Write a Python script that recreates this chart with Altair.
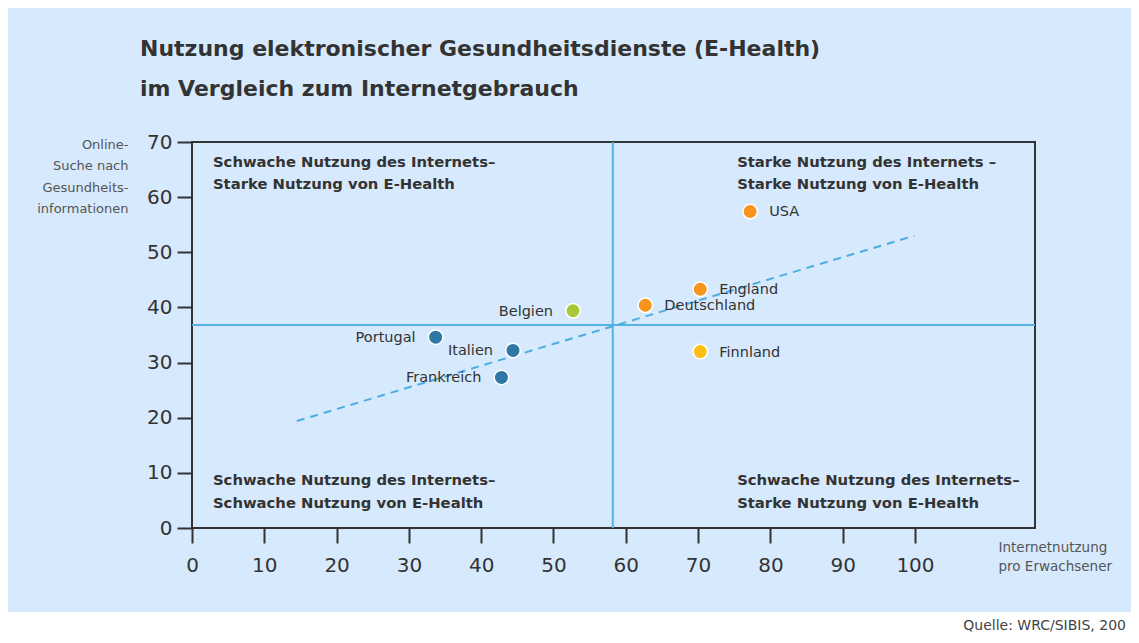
import altair as alt
import pandas as pd

# ---- data ----
countries = ["USA", "England", "Deutschland", "Finnland", "Belgien", "Portugal", "Italien", "Frankreich"]
internet = [77.2, 70.3, 62.7, 70.3, 52.7, 33.7, 44.4, 42.8]
ehealth = [57.4, 43.3, 40.4, 32.0, 39.4, 34.6, 32.2, 27.3]
groups = ["orange", "orange", "orange", "gelb", "gruen", "blau", "blau", "blau"]
label_side = ["rechts", "rechts", "rechts", "rechts", "links", "links", "links", "links"]

trend_x = [14.5, 99.9]
trend_y = [19.4, 53.0]

quad_x_line = 58.2
quad_y_line = 36.8

quad_text = [
    "Schwache Nutzung des Internets–", "Starke Nutzung von E-Health",
    "Starke Nutzung des Internets –", "Starke Nutzung von E-Health",
    "Schwache Nutzung des Internets–", "Schwache Nutzung von E-Health",
    "Schwache Nutzung des Internets–", "Starke Nutzung von E-Health",
]
quad_x = [2.9, 2.9, 75.4, 75.4, 2.9, 2.9, 75.4, 75.4]
quad_y = [66.2, 62.2, 66.2, 62.2, 8.5, 4.4, 8.5, 4.4]

x_ticks = [0, 10, 20, 30, 40, 50, 60, 70, 80, 90, 100]
y_ticks = [0, 10, 20, 30, 40, 50, 60, 70]

title_lines = ["Nutzung elektronischer Gesundheitsdienste (E-Health)",
               "im Vergleich zum Internetgebrauch"]
source_text = "Quelle: WRC/SIBIS, 200"

group_domain = ["orange", "gelb", "gruen", "blau"]
group_colors = ["#f7941d", "#fdbf16", "#a8c83a", "#2f78a6"]

BG = "#d7e9fc"
DARK = "#333333"
LINEBLUE = "#55b3e3"

df = pd.DataFrame({"land": countries, "internet": internet, "ehealth": ehealth,
                   "gruppe": groups, "seite": label_side})
trend_df = pd.DataFrame({"internet": trend_x, "ehealth": trend_y})
quad_df = pd.DataFrame({"text": quad_text, "internet": quad_x, "ehealth": quad_y})

xscale = alt.Scale(domain=[0, 116.6], nice=False, zero=False)
yscale = alt.Scale(domain=[0, 70], nice=False, zero=False)

x_axis = alt.Axis(values=x_ticks, grid=False, domain=False, ticks=True, tickSize=15,
                  tickWidth=2, tickColor=DARK, labelFontSize=20, labelFont="DejaVu Sans",
                  labelColor=DARK, labelPadding=12, labelFlush=False,
                  title=["Internetnutzung", "pro Erwachsener"], titleAngle=0,
                  titleAlign="left", titleBaseline="top", titleX=806, titleY=12,
                  titleFontSize=13.5, titleFontWeight="normal", titleColor="#555555",
                  titleFont="DejaVu Sans", titleLineHeight=19)
y_axis = alt.Axis(values=y_ticks, grid=False, domain=False, ticks=True, tickSize=15,
                  tickWidth=2, tickColor=DARK, labelFontSize=20, labelFont="DejaVu Sans",
                  labelColor=DARK, labelPadding=5, labelFlush=False,
                  title=["Online-", "Suche nach", "Gesundheits-", "informationen"],
                  titleAngle=0, titleAlign="right", titleBaseline="top", titleX=-64,
                  titleY=-4, titleFontSize=13, titleFontWeight="normal",
                  titleColor="#555555", titleFont="DejaVu Sans", titleLineHeight=21.5)


def X(field="internet:Q"):
    return alt.X(field, scale=xscale, axis=x_axis)


def Y(field="ehealth:Q"):
    return alt.Y(field, scale=yscale, axis=y_axis)


# white strip at the bottom of the page (decorative background)
white_strip = alt.Chart(pd.DataFrame({"a": [0]})).mark_rect(color="white").encode(
    x=alt.value(-200), x2=alt.value(960), y=alt.value(470), y2=alt.value(520))

vline = alt.Chart(pd.DataFrame({"internet": [quad_x_line]})).mark_rule(
    color=LINEBLUE, strokeWidth=2).encode(x=X())
hline = alt.Chart(pd.DataFrame({"ehealth": [quad_y_line]})).mark_rule(
    color=LINEBLUE, strokeWidth=2).encode(y=Y())

trend = alt.Chart(trend_df).mark_line(color="#4aaee2", strokeWidth=2,
                                      strokeDash=[8, 6]).encode(x=X(), y=Y())

points = alt.Chart(df).mark_circle(size=210, opacity=1, stroke="white",
                                   strokeWidth=1.5).encode(
    x=X(), y=Y(),
    color=alt.Color("gruppe:N", scale=alt.Scale(domain=group_domain, range=group_colors),
                    legend=None))

lab_right = alt.Chart(df).transform_filter(alt.datum.seite == "rechts").mark_text(
    align="left", baseline="middle", dx=19, dy=1, fontSize=14.5, font="DejaVu Sans",
    color=DARK).encode(x=X(), y=Y(), text="land:N")
lab_left = alt.Chart(df).transform_filter(alt.datum.seite == "links").mark_text(
    align="right", baseline="middle", dx=-20, dy=1, fontSize=14.5, font="DejaVu Sans",
    color=DARK).encode(x=X(), y=Y(), text="land:N")

quads = alt.Chart(quad_df).mark_text(align="left", baseline="middle", fontSize=14.8,
                                     font="DejaVu Sans", fontWeight="bold",
                                     color=DARK).encode(x=X(), y=Y(), text="text:N")

title1 = alt.Chart(pd.DataFrame({"t": [title_lines[0]]})).mark_text(
    align="left", baseline="alphabetic", fontSize=22, font="DejaVu Sans",
    fontWeight="bold", color=DARK).encode(x=alt.value(-52), y=alt.value(-86), text="t:N")
title2 = alt.Chart(pd.DataFrame({"t": [title_lines[1]]})).mark_text(
    align="left", baseline="alphabetic", fontSize=22, font="DejaVu Sans",
    fontWeight="bold", color=DARK).encode(x=alt.value(-52), y=alt.value(-46), text="t:N")
source = alt.Chart(pd.DataFrame({"t": [source_text]})).mark_text(
    align="right", baseline="middle", fontSize=14, font="DejaVu Sans",
    color="#444444").encode(x=alt.value(934), y=alt.value(484), text="t:N")

chart = alt.layer(white_strip, vline, hline, trend, points, lab_right, lab_left, quads,
                  title1, title2, source).properties(
    width=843, height=386,
    padding={"left": 184, "top": 134, "right": 96, "bottom": 107},
    autosize=alt.AutoSizeParams(type="none"),
).configure(background=BG).configure_view(stroke=DARK, strokeWidth=2)

chart.save("out.html", embed_options={"renderer": "svg", "actions": False})
